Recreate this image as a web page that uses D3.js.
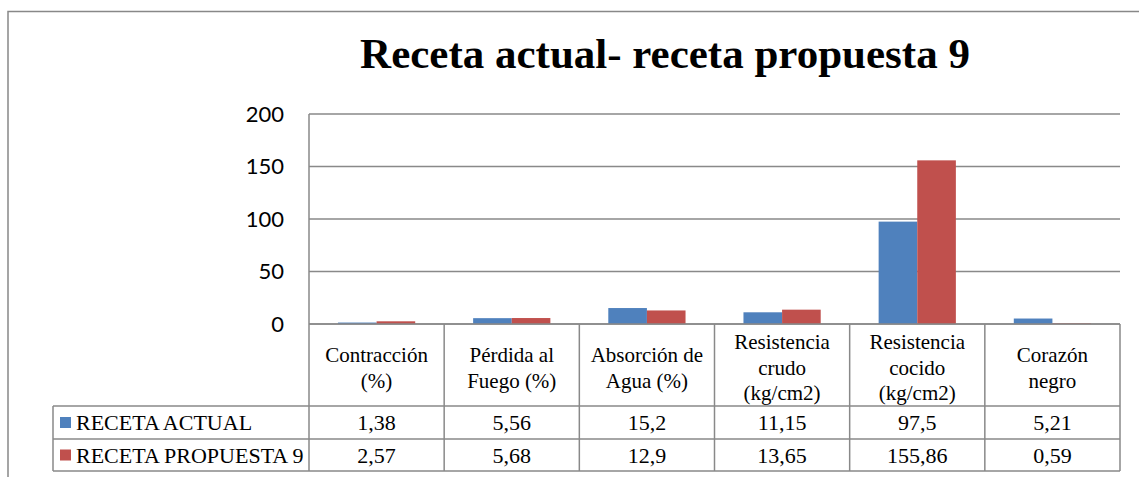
<!DOCTYPE html>
<html><head><meta charset="utf-8">
<script src="https://cdn.jsdelivr.net/npm/d3@7"></script>
<style>html,body{margin:0;padding:0;background:#fff;overflow:hidden;}</style>
</head><body>
<script>
const title = "Receta actual- receta propuesta 9";
const categories = [["Contracción","(%)"],["Pérdida al","Fuego (%)"],["Absorción de","Agua (%)"],["Resistencia","crudo","(kg/cm2)"],["Resistencia","cocido","(kg/cm2)"],["Corazón","negro"]];
const seriesNames = ["RECETA ACTUAL","RECETA PROPUESTA 9"];
const recetaActual = [1.38, 5.56, 15.2, 11.15, 97.5, 5.21];
const recetaPropuesta9 = [2.57, 5.68, 12.9, 13.65, 155.86, 0.59];
const actualLabels = ["1,38","5,56","15,2","11,15","97,5","5,21"];
const propuestaLabels = ["2,57","5,68","12,9","13,65","155,86","0,59"];
const yTicks = [0, 50, 100, 150, 200];
const colors = ["#4F81BD", "#C0504D"];

(function () {
const W = 1139, H = 477;
const svg = d3.select("body").append("svg").attr("width", W).attr("height", H).style("display", "block");
const gray = "#898989";

svg.append("rect").attr("x", 8).attr("y", 11.5).attr("width", 1140).attr("height", 480)
  .attr("fill", "none").attr("stroke", "#888").attr("stroke-width", 1.5);

svg.append("text").attr("x", 665).attr("y", 68).attr("text-anchor", "middle")
  .attr("font-family", "'Liberation Serif', 'Times New Roman', serif").attr("font-weight", "bold")
  .attr("font-size", 43).attr("fill", "#000").text(title);

const pLeft = 309, pRight = 1120, pTop = 114, zeroY = 324;
const idx = d3.range(categories.length);
const x = d3.scaleBand().domain(idx).range([pLeft, pRight]).paddingInner(0).paddingOuter(0);
const y = d3.scaleLinear().domain([0, 200]).range([zeroY, pTop]);
const xs = d3.scaleBand().domain([0, 1]).range([0, x.bandwidth()]).paddingInner(0).paddingOuter(0.75);

svg.append("g").selectAll("line").data(yTicks).join("line")
  .attr("x1", pLeft).attr("x2", pRight).attr("y1", d => y(d)).attr("y2", d => y(d))
  .attr("stroke", gray).attr("stroke-width", 1.5);

const yAxis = d3.axisLeft(y).tickValues(yTicks).tickSize(0).tickPadding(0).tickFormat(d3.format("d"));
const ga = svg.append("g").attr("transform", `translate(${284},0)`).call(yAxis);
ga.select(".domain").remove();
ga.selectAll("text").attr("font-family", "Lato, 'Open Sans', sans-serif").attr("font-size", 22).attr("fill", "#000");

const series = [recetaActual, recetaPropuesta9];
series.forEach((vals, s) => {
  svg.append("g").selectAll("rect").data(vals).join("rect")
    .attr("x", (d, i) => x(i) + xs(s)).attr("width", xs.bandwidth())
    .attr("y", d => y(d)).attr("height", d => y(0) - y(d))
    .attr("fill", colors[s]);
});

const hdrBottom = 406, row1Bottom = 439, row2Bottom = 471, legendLeft = 53;
const tf = "'Liberation Serif', 'Times New Roman', serif";
const tg = svg.append("g");
[[pLeft, zeroY], [legendLeft, hdrBottom], [legendLeft, row1Bottom], [legendLeft, row2Bottom]].forEach(([x0, yy]) => {
  tg.append("line").attr("x1", x0).attr("x2", pRight).attr("y1", yy).attr("y2", yy)
    .attr("stroke", gray).attr("stroke-width", 1.5);
});
tg.append("line").attr("x1", pLeft).attr("x2", pLeft).attr("y1", pTop).attr("y2", row2Bottom).attr("stroke", gray).attr("stroke-width", 1.5);
tg.append("line").attr("x1", legendLeft).attr("x2", legendLeft).attr("y1", hdrBottom).attr("y2", row2Bottom).attr("stroke", gray).attr("stroke-width", 1.5);
idx.forEach(i => {
  const xx = x(i) + x.bandwidth();
  tg.append("line").attr("x1", xx).attr("x2", xx).attr("y1", zeroY).attr("y2", row2Bottom).attr("stroke", gray).attr("stroke-width", 1.5);
});
const lh = 25.5;
categories.forEach((lines, i) => {
  const cx = x(i) + x.bandwidth() / 2;
  const y0 = 367.5 - (lines.length - 1) * lh / 2;
  lines.forEach((t, j) => {
    tg.append("text").attr("x", cx).attr("y", y0 + j * lh).attr("dy", "0.35em").attr("text-anchor", "middle")
      .attr("font-family", tf).attr("font-size", 21).attr("fill", "#000").text(t);
  });
});
const rowLabels = [actualLabels, propuestaLabels];
const rowCenters = [(hdrBottom + row1Bottom) / 2, (row1Bottom + row2Bottom) / 2];
rowLabels.forEach((labs, s) => {
  tg.append("rect").attr("x", 60).attr("y", rowCenters[s] - 5.5).attr("width", 11).attr("height", 11).attr("fill", colors[s]);
  tg.append("text").attr("x", 76).attr("y", rowCenters[s]).attr("dy", "0.35em")
    .attr("font-family", tf).attr("font-size", 22).attr("fill", "#000").text(seriesNames[s]);
  labs.forEach((t, i) => {
    tg.append("text").attr("x", x(i) + x.bandwidth() / 2).attr("y", rowCenters[s]).attr("dy", "0.35em")
      .attr("text-anchor", "middle").attr("font-family", tf).attr("font-size", 22).attr("fill", "#000").text(t);
  });
});
})();
</script>
</body></html>
